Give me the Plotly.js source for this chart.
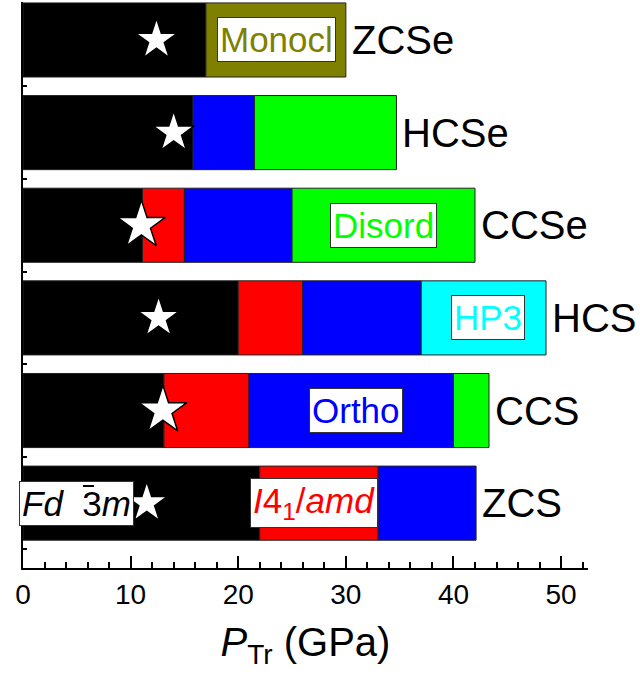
<!DOCTYPE html>
<html>
<head>
<meta charset="utf-8">
<script src="https://cdn.plot.ly/plotly-3.0.1.min.js"></script>
<style>html,body{margin:0;padding:0;background:#fff}</style>
</head>
<body>
<div id="chart" style="width:640px;height:677px"></div>
<script>
// Categories (bottom to top)
const categories = ['ZCS', 'CCS', 'HCS', 'CCSe', 'HCSe', 'ZCSe'];
// Upper pressure (GPa) of each phase's stability range per compound (null = phase absent)
const endFd3m   = [22.0, 13.1, 20.0, 11.1, 15.8, 17.0];
const endI41amd = [33.0, 21.0, 26.0, 15.0, null, null];
const endOrtho  = [42.1, 40.0, 37.0, 25.0, 21.5, null];
const endDisord = [null, 43.3, null, 42.0, 34.7, null];
const endHP3    = [null, null, 48.6, null, null, null];
const endMonocl = [null, null, null, null, null, 30.0];
// Star markers: transition pressure marks (GPa)
const starP     = [11.5, 13.0, 12.6, 11.0, 14.0, 12.4];
const starSize  = [31, 36, 31, 36, 31, 31];

const phases = [
  {name: 'Fd-3m',   ends: endFd3m,   color: '#000000'},
  {name: 'I41/amd', ends: endI41amd, color: '#FF0000'},
  {name: 'Ortho',   ends: endOrtho,  color: '#0000FF'},
  {name: 'Disord',  ends: endDisord, color: '#00FF00'},
  {name: 'HP3',     ends: endHP3,    color: '#00FFFF'},
  {name: 'Monocl',  ends: endMonocl, color: '#808000'}
];

// compute bases (start of each phase = previous phase end)
const current = categories.map(() => 0);
const traces = [];
phases.forEach(ph => {
  const base = [], len = [];
  ph.ends.forEach((e, i) => {
    if (e === null) { base.push(null); len.push(null); }
    else { base.push(current[i]); len.push(e - current[i]); current[i] = e; }
  });
  traces.push({
    type: 'bar', orientation: 'h', y: categories, x: len, base: base,
    width: 0.8, name: ph.name,
    marker: {color: ph.color, line: {color: '#222', width: 1}},
    hoverinfo: 'skip'
  });
});
const totals = current.slice();

traces.push({
  type: 'scatter', mode: 'markers', x: starP, y: categories, opacity: 1,
  marker: {symbol: 'star', size: starSize, opacity: 1, color: '#FFFFFF', line: {color: '#000', width: 1.5}},
  hoverinfo: 'skip'
});

const FONT = 'Liberation Sans, Arial, sans-serif';
const annotations = categories.map((c, i) => ({
  x: totals[i], y: c, xref: 'x', yref: 'y', text: c, showarrow: false,
  xanchor: 'left', yanchor: 'middle', xshift: 4,
  font: {family: FONT, size: 40, color: '#000'}
}));
function box(x, y, text, color, size) {
  return {x: x, y: y, xref: 'x', yref: 'y', text: text, showarrow: false,
    xanchor: 'center', yanchor: 'middle', bgcolor: '#FFFFFF', bordercolor: '#333',
    borderwidth: 1, borderpad: 2, font: {family: FONT, size: size || 35, color: color}};
}
annotations.push(box(23.6, 'ZCSe', 'Monocl', '#808000'));
annotations.push(box(33.5, 'CCSe', 'Disord', '#00FF00'));
annotations.push(box(43.2, 'HCS', 'HP3', '#00FFFF'));
annotations.push(box(30.95, 'CCS', 'Ortho', '#0000FF'));
annotations.push(box(27.0, 'ZCS', '<i>I</i>4<sub>1</sub>/<i>amd</i>', '#FF0000'));
annotations.push(box(5.0, 'ZCS', '<i>Fd</i>  3<i>m</i>', '#000000'));
// overbar over the "3" of Fd-3m (drawn as a thin black annotation box on top)
annotations.push({x: 0.1168, y: 0.1449, xref: 'paper', yref: 'paper', text: ' ',
  showarrow: false, xanchor: 'center', yanchor: 'middle', width: 11, height: 2,
  borderpad: 0, borderwidth: 0, bgcolor: '#000', font: {size: 1, color: '#000'}});

const layout = {
  width: 640, height: 677,
  margin: {l: 23, r: 52, t: 2, b: 109},
  paper_bgcolor: '#fff', plot_bgcolor: '#fff',
  barmode: 'overlay', showlegend: false,
  font: {family: FONT, color: '#000'},
  xaxis: {
    range: [0, 52.5], showgrid: false, zeroline: false,
    showline: true, linecolor: '#000', linewidth: 2,
    ticks: 'inside', ticklen: 12, tickwidth: 2, tickcolor: '#000',
    tick0: 0, dtick: 10,
    minor: {dtick: 2, ticks: 'inside', ticklen: 6, tickwidth: 2, tickcolor: '#000', showgrid: false},
    tickfont: {family: FONT, size: 28, color: '#000'},
    title: {text: '<i>P</i><sub>Tr</sub> (GPa)', font: {family: FONT, size: 40, color: '#000'}, standoff: 19}
  },
  yaxis: {
    type: 'category', categoryarray: categories, categoryorder: 'array',
    range: [-0.7, 5.41], showgrid: false, zeroline: false,
    showline: true, linecolor: '#000', linewidth: 2,
    ticks: 'inside', tickson: 'boundaries', ticklen: 4, tickwidth: 2, tickcolor: '#000',
    showticklabels: false
  },
  annotations: annotations
};

Plotly.newPlot('chart', traces, layout, {displayModeBar: false, staticPlot: true});
</script>
</body>
</html>
